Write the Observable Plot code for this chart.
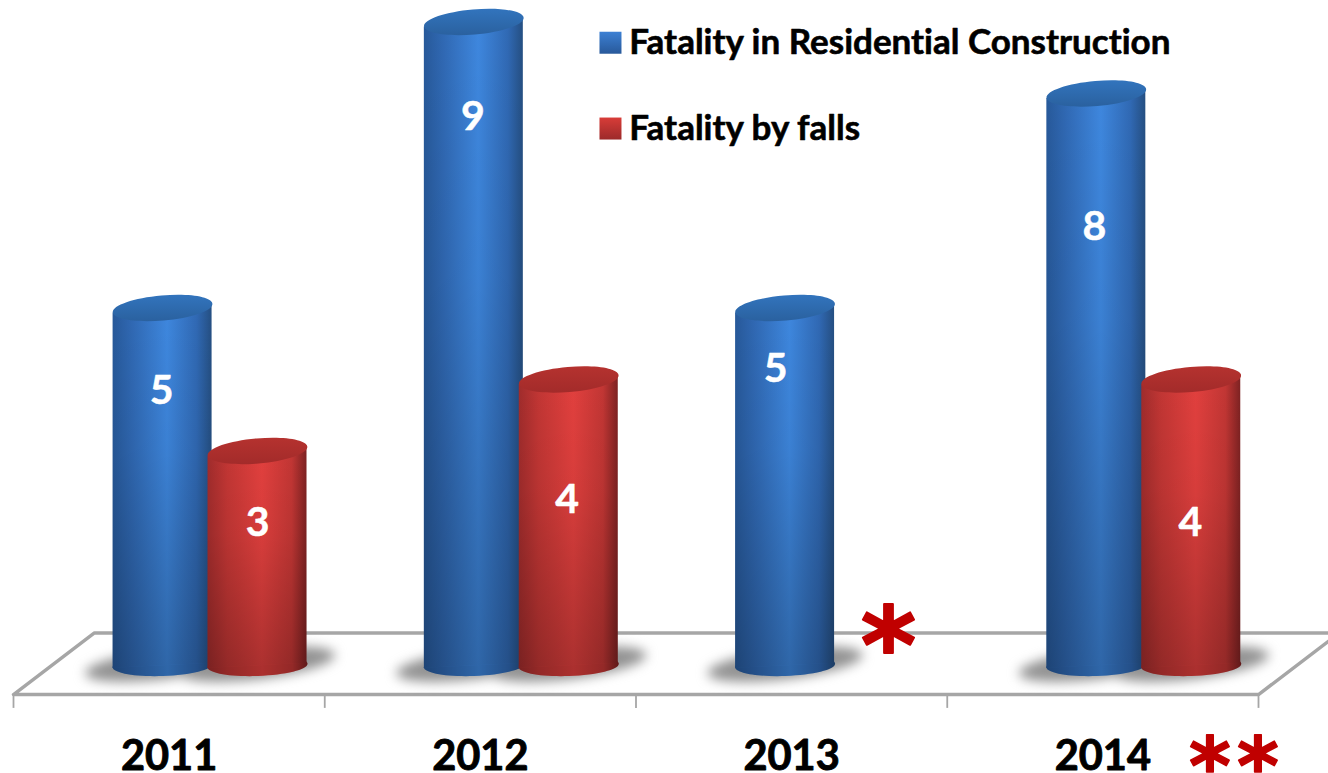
<!DOCTYPE html>
<html>
<head>
<meta charset="utf-8">
<script src="https://cdn.jsdelivr.net/npm/d3@7"></script>
<script src="https://cdn.jsdelivr.net/npm/@observablehq/plot@0.6"></script>
<style>
html,body{margin:0;padding:0;background:#fff;overflow:hidden}
svg{display:block;overflow:hidden}
svg text{font-variant-ligatures:none}
.stars text{letter-spacing:6.2px}
</style>
</head>
<body>
<div id="chart"></div>
<script>
// Data
const years = ["2011", "2012", "2013", "2014"];
const residential = [5, 9, 5, 8];
const falls = [3, 4, null, 4];
const legendLabels = ["Fatality in Residential Construction", "Fatality by falls"];

// Placement of labels, in the scale's own units
const residentialLabelY = [3.84, 7.68, 4.15, 6.14];
const fallsLabelY = [2.0, 2.31, null, 1.99];
const residentialLabelNudge = [-0.003, -0.003, -0.03, -0.006];
const fallsLabelNudge = [0, -0.005, 0, -0.003];
const yearLabelY = -1.275;
const floorX = [0, 4, 4.26, 0.26, 0];
const floorY = [-0.406, -0.406, 0.455, 0.455, -0.406];
const tickX = [0, 1, 2, 3, 4];

const barHalf = 0.159;
const blueOffset = 0.479;
const redOffset = 0.784;

function ellipse(rx, ry, deg) {
  const a = deg * Math.PI / 180, c = Math.cos(a), s = Math.sin(a), k = 0.5523;
  const T = (x, y) => [x * c - y * s, x * s + y * c];
  return {
    draw(ctx) {
      const pts = [
        [rx, 0],
        [rx, k * ry], [k * rx, ry], [0, ry],
        [-k * rx, ry], [-rx, k * ry], [-rx, 0],
        [-rx, -k * ry], [-k * rx, -ry], [0, -ry],
        [k * rx, -ry], [rx, -k * ry], [rx, 0]
      ].map(p => T(p[0], p[1]));
      ctx.moveTo(...pts[0]);
      for (let i = 1; i < pts.length; i += 3) ctx.bezierCurveTo(...pts[i], ...pts[i + 1], ...pts[i + 2]);
      ctx.closePath();
    }
  };
}

const cyl = (values, offset) => values.map((v, i) => v == null ? null : ({year: years[i], v, x: i + offset})).filter(Boolean);
const blue = cyl(residential, blueOffset);
const red = cyl(falls, redOffset);

const side = rows => rows.flatMap(d => [
  {id: d.year, x: d.x - barHalf, y1: -0.04, y2: d.v - 0.07},
  {id: d.year, x: d.x + barHalf, y1: 0.03, y2: d.v + 0.07}
]);

const cylinderMarks = (rows, body, top) => [
  Plot.dot(rows, {x: "x", y: 0, r: 1, symbol: ellipse(50, 10.5, -2), fill: body}),
  Plot.dot(rows, {x: "x", y: 0, r: 1, symbol: ellipse(50, 10.5, -2), fill: "#000", fillOpacity: 0.24}),
  Plot.areaY(side(rows), {x: "x", y1: "y1", y2: "y2", z: "id", fill: body}),
  Plot.areaY(side(rows), {x: "x", y1: "y1", y2: "y2", z: "id", fill: "url(#shade)"}),
  Plot.dot(rows, {x: "x", y: "v", r: 1, symbol: ellipse(50, 12.5, -5), fill: top})
];

const font = "Lato, Carlito, 'Open Sans', sans-serif";
const starFont = "'DejaVu Sans', sans-serif";
const valueLabels = (values, at, nudge, offset) => values.map((v, i) => v == null ? null : ({
  t: String(v), x: i + offset + nudge[i], y: at[i]
})).filter(Boolean);

const plot = Plot.plot({
  width: 1328,
  height: 773,
  marginTop: 0, marginRight: 0, marginBottom: 0, marginLeft: 0,
  x: {domain: [0, 4], range: [13, 1258], axis: null},
  y: {domain: [-108 / 71.5, 665 / 71.5], range: [773, 0], axis: null},
  style: {background: "#fff", fontFamily: font},
  marks: [
    Plot.line(floorX.map((x, i) => ({x, y: floorY[i]})), {x: "x", y: "y", stroke: "#a6a6a6", strokeWidth: 3.4, strokeLinejoin: "miter"}),
    Plot.ruleX(tickX, {y1: floorY[0], y2: -0.6, stroke: "#a6a6a6", strokeWidth: 1.8}),
    Plot.dot([...blue, ...red], {x: "x", y: 0.02, r: 1, symbol: ellipse(78, 15, -7), fill: "#929292", imageFilter: "blur(6px)"}),
    ...cylinderMarks(blue, "url(#blueBody)", "url(#blueTop)"),
    ...cylinderMarks(red, "url(#redBody)", "url(#redTop)"),
    Plot.text(valueLabels(residential, residentialLabelY, residentialLabelNudge, blueOffset), {x: "x", y: "y", text: "t", fill: "#fff", stroke: "#fff", strokeWidth: 0.5, fontSize: 41, fontWeight: 700, fontFamily: font}),
    Plot.text(valueLabels(falls, fallsLabelY, fallsLabelNudge, redOffset), {x: "x", y: "y", text: "t", fill: "#fff", stroke: "#fff", strokeWidth: 0.5, fontSize: 41, fontWeight: 700, fontFamily: font}),
    Plot.text(years, {x: (d, i) => i + 0.5, y: yearLabelY, text: d => d, fill: "#000", stroke: "#000", strokeWidth: 0.9, fontSize: 41.5, fontWeight: 700, fontFamily: font}),
    Plot.dot(legendLabels, {x: 1.918, y: (d, i) => i ? 7.51 : 8.71, r: 1, symbol: {draw(ctx) { ctx.rect(-11, -11, 22, 22); }}, fill: (d, i) => i ? "url(#redKey)" : "url(#blueKey)"}),
    Plot.text(legendLabels, {x: 1.978, y: (d, i) => i ? 7.51 : 8.71, text: d => d, textAnchor: "start", fill: "#000", stroke: "#000", strokeWidth: 0.6, fontSize: 35, fontWeight: 700, fontFamily: font}),
    Plot.text(["*"], {x: 2.811, y: 0.24, text: d => d, fill: "#c00000", stroke: "#c00000", strokeWidth: 2, fontSize: 106, fontWeight: 700, fontFamily: starFont}),
    Plot.text(["**"], {x: 3.931, y: -1.434, text: d => d, className: "stars", fill: "#c00000", stroke: "#c00000", strokeWidth: 1.5, fontSize: 80, fontWeight: 700, fontFamily: starFont})
  ]
});

const hstops = (a, b, c, d) => `
  <stop offset="0" stop-color="${a}"/><stop offset="0.2" stop-color="${b}"/>
  <stop offset="0.55" stop-color="${c}"/><stop offset="0.85" stop-color="${b}"/>
  <stop offset="1" stop-color="${d}"/>`;
plot.insertAdjacentHTML("afterbegin", `<defs>
  <linearGradient id="blueBody" x1="0" x2="1" y1="0" y2="0">${hstops("#27599a", "#3069b4", "#3e87de", "#254f82")}</linearGradient>
  <linearGradient id="redBody" x1="0" x2="1" y1="0" y2="0">${hstops("#a02c2c", "#c23634", "#e2403e", "#7e2222")}</linearGradient>
  <linearGradient id="shade" x1="0" x2="0" y1="0" y2="1"><stop offset="0" stop-color="#000" stop-opacity="0"/><stop offset="0.4" stop-color="#000" stop-opacity="0.05"/><stop offset="1" stop-color="#000" stop-opacity="0.24"/></linearGradient>
  <linearGradient id="blueTop" x1="0" x2="0" y1="0" y2="1"><stop offset="0" stop-color="#3274bd"/><stop offset="1" stop-color="#2a619f"/></linearGradient>
  <linearGradient id="redTop" x1="0" x2="0" y1="0" y2="1"><stop offset="0" stop-color="#b5322f"/><stop offset="1" stop-color="#a32b2a"/></linearGradient>
  <linearGradient id="blueKey" x1="0" x2="0" y1="0" y2="1"><stop offset="0" stop-color="#3c80d4"/><stop offset="1" stop-color="#28599a"/></linearGradient>
  <linearGradient id="redKey" x1="0" x2="0" y1="0" y2="1"><stop offset="0" stop-color="#d83c38"/><stop offset="1" stop-color="#9c2a2a"/></linearGradient>
</defs>`);
document.getElementById("chart").appendChild(plot);
</script>
</body>
</html>
